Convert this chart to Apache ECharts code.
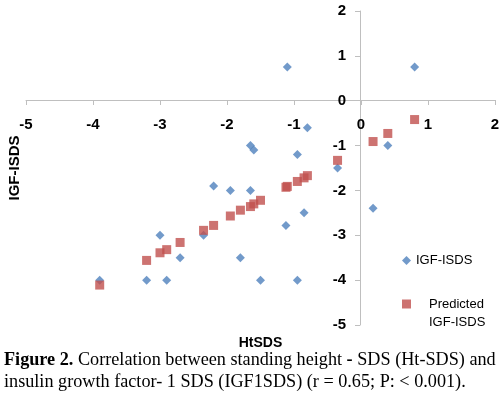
<!DOCTYPE html>
<html>
<head>
<meta charset="utf-8">
<script src="https://cdn.jsdelivr.net/npm/echarts@6/dist/echarts.min.js"></script>
<style>
html,body{margin:0;padding:0;background:#fff;}
#chart{width:504px;height:396px;}
</style>
</head>
<body>
<div id="chart"></div>
<script>
// Observed IGF-I SDS vs height SDS
const observedHtSDS = [-3.9, -3.2, -2.9, -3.0, -2.7, -2.35, -2.2, -1.95, -1.65, -1.8, -1.65, -1.6, -1.5, -1.12, -1.1, -0.95, -0.95, -0.85, -0.8, -0.35, 0.18, 0.4, 0.8];
const observedIGF = [-4.0, -4.0, -4.0, -3.0, -3.5, -3.0, -1.9, -2.0, -2.0, -3.5, -1.0, -1.1, -4.0, -2.78, 0.75, -4.0, -1.2, -2.5, -0.6, -1.5, -2.4, -1.0, 0.75];
// Predicted IGF-I SDS
const predictedHtSDS = [-3.9, -3.2, -3.0, -2.9, -2.7, -2.35, -2.2, -1.95, -1.8, -1.65, -1.6, -1.5, -1.12, -1.1, -0.95, -0.85, -0.8, -0.35, 0.18, 0.4, 0.8];
const predictedIGF = [-4.11, -3.56, -3.39, -3.32, -3.16, -2.89, -2.78, -2.57, -2.44, -2.36, -2.3, -2.22, -1.93, -1.91, -1.8, -1.72, -1.67, -1.33, -0.91, -0.73, -0.42];
const axisTicks = {min: -5, max: 2, interval: 1};
const seriesNames = ['IGF-ISDS', 'Predicted IGF-ISDS'];
const xTitle = 'HtSDS';
const yTitle = 'IGF-ISDS';
const captionBold = 'Figure 2.';
const captionLine1a = ' Correlation between standing height ';
const captionLine1b = ' SDS (Ht-SDS) and';
const captionLine2 = 'insulin growth factor- 1 SDS (IGF1SDS) (r = 0.65; P: < 0.001).';

const zip = (a, b) => a.map((v, i) => [v, b[i]]);
const chart = echarts.init(document.getElementById('chart'));
const axisCommon = {
  type: 'value',
  min: axisTicks.min, max: axisTicks.max, interval: axisTicks.interval,
  splitLine: {show: false},
  axisLine: {show: true, onZero: false, lineStyle: {color: '#bfbfbf', width: 1}},
  axisTick: {show: true, inside: false, length: 5, lineStyle: {color: '#bfbfbf'}},
  axisLabel: {color: '#000', fontWeight: 'bold', fontSize: 15, fontFamily: 'Liberation Sans', margin: 14},
  nameTextStyle: {color: '#000', fontWeight: 'bold', fontSize: 14, fontFamily: 'Liberation Sans'}
};
chart.setOption({
  animation: false,
  backgroundColor: '#fff',
  grid: {left: 26, right: 9, top: 11, bottom: 71, containLabel: false, outerBoundsMode: 'none'},
  xAxis: Object.assign({}, axisCommon, {
    position: 'bottom', offset: -225,
    axisLabel: Object.assign({}, axisCommon.axisLabel, {margin: 17}),
    name: xTitle, nameLocation: 'middle', nameGap: 236
  }),
  yAxis: Object.assign({}, axisCommon, {
    position: 'left', offset: -334,
    name: yTitle, nameLocation: 'middle', nameGap: 338, nameRotate: 90,
    nameTextStyle: {color: '#000', fontWeight: 'bold', fontSize: 15, fontFamily: 'Liberation Sans'}
  }),
  legend: [
    {
      data: [{name: seriesNames[0], icon: 'diamond'}],
      left: 402, top: 254, itemWidth: 9, itemHeight: 9, padding: 0,
      textStyle: {color: '#000', fontSize: 13, fontFamily: 'Liberation Sans'}
    },
    {
      data: [{name: seriesNames[1], icon: 'rect'}],
      left: 402, top: 277, itemWidth: 9, itemHeight: 9, padding: 0,
      formatter: () => '\nPredicted\nIGF-ISDS',
      textStyle: {color: '#000', fontSize: 13, fontFamily: 'Liberation Sans', lineHeight: 18, padding: [0, 0, 0, 13]}
    }
  ],
  graphic: [{
    type: 'text', left: 4, top: 351,
    style: {
      text: '{b|' + captionBold + '}{n|' + captionLine1a + '}{b|-}{n|' + captionLine1b + '}\n{n|' + captionLine2 + '}',
      rich: {
        b: {fontFamily: 'Liberation Serif', fontSize: 18.2, fontWeight: 'bold', lineHeight: 22, fill: '#000'},
        n: {fontFamily: 'Liberation Serif', fontSize: 18.2, lineHeight: 22, fill: '#000'}
      }
    }
  }],
  series: [
    {
      name: seriesNames[0], type: 'scatter', symbol: 'diamond', symbolSize: 9,
      itemStyle: {color: '#4F81BD'},
      data: zip(observedHtSDS, observedIGF)
    },
    {
      name: seriesNames[1], type: 'scatter', symbol: 'rect', symbolSize: 9,
      itemStyle: {color: '#C0504D'},
      data: zip(predictedHtSDS, predictedIGF)
    }
  ]
});
</script>
</body>
</html>
